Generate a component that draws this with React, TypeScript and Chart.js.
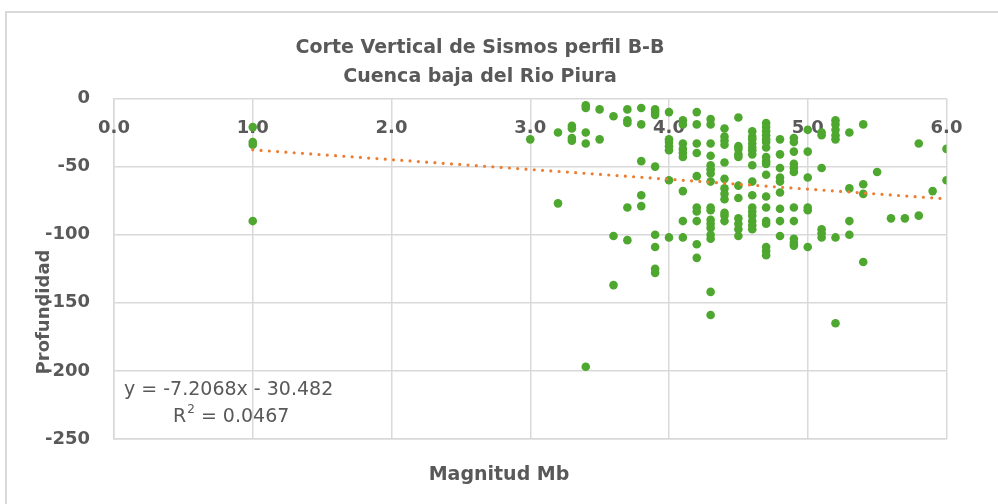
import React, { useEffect, useRef } from "react";
import { Chart, registerables } from "chart.js";

Chart.register(...registerables);

// ---- data ----
const titleLines = ["Corte Vertical de Sismos perfil B-B", "Cuenca baja del Rio Piura"];
const xAxisTitle = "Magnitud Mb";
const yAxisTitle = "Profundidad";
const xTickValues = [0, 1, 2, 3, 4, 5, 6];
const yMin = -250;
const yMax = 0;
const yStep = 50;
const trendSlope = -7.2068;
const trendIntercept = -30.482;
const equationText = "y = -7.2068x - 30.482";
const rSquaredText = "0.0467";

const columnMagnitudes = [
  1.0, 3.0, 3.2, 3.3, 3.4, 3.5, 3.6, 3.7, 3.8, 3.9, 4.0, 4.1, 4.2, 4.3, 4.4, 4.5,
  4.6, 4.7, 4.8, 4.9, 5.0, 5.1, 5.2, 5.3, 5.4, 5.5, 5.6, 5.7, 5.8, 5.9, 6.0,
];
const columnDepths = [
  [-21, -32, -34, -90],
  [-30],
  [-25, -77],
  [-20, -22, -29, -31],
  [-5, -7, -25, -33, -197],
  [-8, -30],
  [-13, -101, -137],
  [-8, -16, -18, -80, -104],
  [-7, -19, -46, -71, -79],
  [-8, -10, -12, -50, -100, -109, -125, -128],
  [-10, -30, -32, -35, -38, -60, -102],
  [-16, -19, -33, -37, -40, -43, -68, -90, -102],
  [-10, -19, -33, -40, -57, -80, -83, -90, -107, -117],
  [-15, -19, -33, -42, -49, -52, -55, -61, -80, -82, -89, -92, -95, -100, -103, -142, -159],
  [-22, -28, -31, -34, -47, -59, -66, -70, -74, -84, -86, -90],
  [-14, -35, -37, -41, -43, -64, -73, -88, -92, -96, -101],
  [-24, -28, -30, -33, -36, -38, -41, -49, -61, -71, -80, -83, -86, -90, -93, -96],
  [-18, -21, -24, -27, -30, -32, -36, -43, -46, -48, -56, -72, -80, -90, -92, -109, -112, -115],
  [-30, -41, -51, -58, -61, -69, -81, -90, -101],
  [-29, -32, -39, -48, -51, -54, -80, -90, -103, -106, -108],
  [-23, -39, -58, -80, -82, -109],
  [-25, -27, -51, -96, -99, -102],
  [-16, -19, -23, -27, -30, -102, -165],
  [-25, -66, -90, -100],
  [-19, -63, -70, -120],
  [-54],
  [-88],
  [-88],
  [-33, -86],
  [-68],
  [-37, -60],
];

// ---- styles ----
const FONT = "'DejaVu Sans', sans-serif";
const TEXT = "#595959";
const GRID = "#d9d9d9";
const GREEN = "#4EA72E";
const ORANGE = "#ED7D31";

export default function App() {
  const ref = useRef<HTMLCanvasElement>(null);

  useEffect(() => {
    const canvas = ref.current;
    if (!canvas) return;

    const points = columnMagnitudes.flatMap((m, i) =>
      columnDepths[i].map((d) => ({ x: m, y: d }))
    );
    const xLo = Math.min(...columnMagnitudes);
    const xHi = Math.max(...columnMagnitudes);
    const trend = [xLo, xHi].map((x) => ({ x, y: trendSlope * x + trendIntercept }));

    const textPlugin = {
      id: "texts",
      beforeDatasetsDraw(chart: any) {
        const ctx = chart.ctx as CanvasRenderingContext2D;
        const xs = chart.scales.x;
        const ys = chart.scales.y;
        ctx.save();
        ctx.fillStyle = TEXT;
        ctx.font = `bold 18px ${FONT}`;
        ctx.textAlign = "center";
        ctx.textBaseline = "middle";
        const ty = ys.getPixelForValue(0) + 30;
        xTickValues.forEach((v) => ctx.fillText(v.toFixed(1), xs.getPixelForValue(v), ty));
        ctx.restore();
      },
      afterDraw(chart: any) {
        const ctx = chart.ctx as CanvasRenderingContext2D;
        ctx.save();
        // outer border
        ctx.strokeStyle = GRID;
        ctx.lineWidth = 2;
        ctx.strokeRect(6, 12, 1200, 800);

        ctx.fillStyle = TEXT;
        ctx.textBaseline = "middle";
        ctx.textAlign = "center";
        ctx.font = `bold 19px ${FONT}`;
        ctx.fillText(titleLines[0], 480, 48);
        ctx.fillText(titleLines[1], 480, 77);
        ctx.fillText(xAxisTitle, 499, 475);

        ctx.save();
        ctx.translate(44, 312);
        ctx.rotate(-Math.PI / 2);
        ctx.font = `bold 18px ${FONT}`;
        ctx.fillText(yAxisTitle, 0, 0);
        ctx.restore();

        // equation
        ctx.textAlign = "left";
        ctx.font = `19px ${FONT}`;
        ctx.fillText(equationText, 124, 390);
        let x = 173;
        ctx.fillText("R", x, 417);
        x += ctx.measureText("R").width;
        ctx.font = `12px ${FONT}`;
        ctx.fillText("2", x + 1, 410);
        x += ctx.measureText("2").width + 1;
        ctx.font = `19px ${FONT}`;
        ctx.fillText(" = " + rSquaredText, x, 417);
        ctx.restore();
      },
    };

    const chart = new Chart(canvas, {
      type: "scatter",
      data: {
        datasets: [
          {
            label: "Tendencia",
            data: trend,
            showLine: true,
            pointRadius: 0,
            borderColor: ORANGE,
            borderWidth: 3.2,
            borderDash: [0, 8.3],
            borderCapStyle: "round",
            fill: false,
          } as any,
          {
            label: "Profundidad",
            data: points,
            pointRadius: 4.3,
            pointBackgroundColor: GREEN,
            pointBorderColor: GREEN,
            pointBorderWidth: 0,
            backgroundColor: GREEN,
            borderColor: GREEN,
          },
        ],
      },
      options: {
        responsive: false,
        animation: false,
        devicePixelRatio: 1,
        layout: { padding: { top: 98.5, right: 51.5, bottom: 65, left: 0 } },
        plugins: { legend: { display: false }, tooltip: { enabled: false }, title: { display: false } },
        scales: {
          x: {
            type: "linear",
            min: 0,
            max: 6,
            ticks: { stepSize: 1, display: false },
            grid: { color: GRID, lineWidth: 1.5, drawTicks: false },
            border: { color: GRID, width: 1.5 },
            afterFit: (s: any) => {
              s.height = 0;
            },
          },
          y: {
            type: "linear",
            min: yMin,
            max: yMax,
            ticks: {
              stepSize: yStep,
              color: TEXT,
              padding: 24,
              font: { family: FONT, size: 18, weight: "bold" },
            },
            grid: { color: GRID, lineWidth: 1.5, drawTicks: false },
            border: { color: GRID, width: 1.5 },
            afterFit: (s: any) => {
              s.width = 114;
            },
          },
        },
      } as any,
      plugins: [textPlugin],
    });

    return () => chart.destroy();
  }, []);

  return (
    <div style={{ position: "absolute", left: 0, top: 0, width: 998, height: 504, background: "#fff" }}>
      <canvas ref={ref} width={998} height={504} style={{ width: 998, height: 504, display: "block" }} />
    </div>
  );
}
